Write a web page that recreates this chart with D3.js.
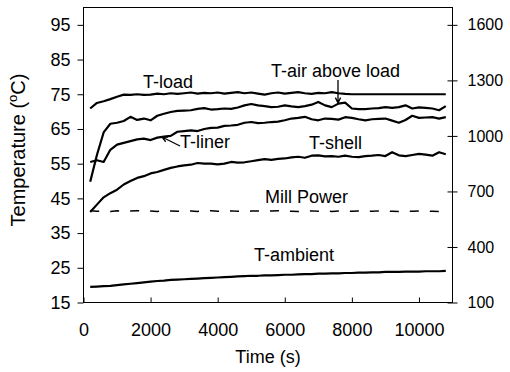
<!DOCTYPE html>
<html>
<head>
<meta charset="utf-8">
<script src="https://cdn.jsdelivr.net/npm/d3@7"></script>
<style>
  body { margin: 0; background: #fff; }
  svg { font-family: Arial, "Liberation Sans", sans-serif; }
</style>
</head>
<body>
<svg id="chart" width="510" height="372"></svg>
<script>
// time samples (s)
var times = [200, 400, 600, 800, 1000, 1200, 1400, 1600, 1800, 2000,
  2200, 2400, 2600, 2800, 3000, 3200, 3400, 3600, 3800, 4000,
  4200, 4400, 4600, 4800, 5000, 5200, 5400, 5600, 5800, 6000,
  6200, 6400, 6600, 6800, 7000, 7200, 7400, 7600, 7800, 8000,
  8200, 8400, 8600, 8800, 9000, 9200, 9400, 9600, 9800, 10000,
  10200, 10400, 10600, 10800];

// temperatures (C)
var tLoad = [70.9, 72.5, 73.0, 73.6, 74.3, 74.9, 74.8, 75.0, 74.8, 74.9,
  75.2, 75.0, 75.3, 75.1, 75.3, 75.5, 75.2, 75.4, 75.3, 75.5,
  75.2, 75.4, 75.6, 75.3, 75.5, 75.2, 74.9, 75.3, 75.5, 75.2,
  75.4, 75.6, 75.3, 75.1, 75.4, 75.3, 75.6, 75.3, 75.1, 75.0,
  75.0, 75.0, 75.0, 75.0, 75.0, 75.0, 75.0, 75.0, 75.0, 75.0,
  75.0, 75.0, 75.0, 75.0];

var tAir = [49.8, 57.5, 64.0, 66.5, 66.8, 67.3, 68.5, 67.6, 68.0, 67.5,
  68.8, 69.4, 69.9, 70.2, 70.3, 70.4, 70.8, 71.0, 70.6, 70.7,
  70.9, 70.8, 71.2, 71.8, 72.2, 71.8, 71.6, 71.3, 71.4, 71.8,
  71.5, 71.3, 71.6, 72.0, 72.8, 71.8, 71.3, 72.3, 72.6, 70.9,
  70.7, 70.7, 70.9, 71.0, 71.3, 71.1, 71.3, 71.8, 70.9, 71.2,
  71.1, 70.9, 70.4, 71.6];

var tLiner = [55.5, 56.0, 55.5, 59.0, 60.5, 61.0, 61.5, 62.0, 62.2, 61.8,
  62.5, 62.8, 63.0, 64.2, 64.4, 64.6, 64.4, 65.0, 65.3, 65.4,
  65.9, 66.0, 66.2, 66.8, 67.0, 66.7, 66.8, 67.0, 67.1, 67.5,
  68.0, 68.2, 68.5, 67.8, 67.5, 68.0, 67.9, 67.7, 68.4, 68.2,
  67.8, 67.5, 67.8, 67.9, 68.0, 67.4, 66.8, 67.6, 68.8, 68.2,
  68.3, 68.4, 68.0, 68.4];

var tShell = [41.1, 43.2, 45.3, 46.5, 47.5, 49.0, 50.0, 50.9, 51.4, 52.2,
  52.6, 53.2, 53.8, 54.2, 54.5, 54.7, 55.2, 55.0, 55.0, 54.8,
  55.0, 55.5, 55.3, 55.4, 55.7, 56.0, 56.3, 56.1, 56.4, 56.5,
  56.8, 57.0, 56.7, 57.3, 57.4, 57.1, 57.2, 57.0, 57.3, 57.0,
  56.9, 57.2, 57.3, 57.5, 57.2, 58.3, 57.4, 57.2, 57.5, 57.8,
  57.6, 57.3, 58.3, 57.7];

var tAmbient = [19.5, 19.6, 19.7, 19.8, 20.0, 20.2, 20.4, 20.6, 20.8, 21.0,
  21.2, 21.3, 21.5, 21.6, 21.7, 21.8, 21.9, 22.0, 22.1, 22.2,
  22.3, 22.4, 22.5, 22.6, 22.7, 22.7, 22.8, 22.8, 22.9, 23.0,
  23.0, 23.1, 23.2, 23.2, 23.3, 23.3, 23.4, 23.4, 23.5, 23.5,
  23.6, 23.6, 23.7, 23.7, 23.8, 23.8, 23.8, 23.9, 23.9, 23.9,
  24.0, 24.0, 24.0, 24.1];

// mill power (W), right axis
var millPower = [596, 593, 594, 592, 595, 593, 594, 596, 593, 594,
  592, 595, 594, 593, 595, 594, 592, 594, 596, 593,
  594, 595, 593, 592, 594, 595, 593, 594, 596, 594,
  593, 592, 594, 595, 593, 594, 592, 594, 595, 593,
  594, 592, 593, 595, 594, 593, 592, 594, 593, 595,
  594, 593, 592, 594];

var xTicks = [0, 2000, 4000, 6000, 8000, 10000];
var leftTicks = [15, 25, 35, 45, 55, 65, 75, 85, 95];
var rightTicks = [100, 400, 700, 1000, 1300, 1600];

var svg = d3.select("#chart");

var pLeft = 83.5, pRight = 452.5, pTop = 7.5, pBottom = 302.5;

var x = d3.scaleLinear().domain([0, 11000]).range([pLeft, pRight]);
var yL = d3.scaleLinear().domain([15, 100]).range([pBottom, pTop]);
var yR = d3.scaleLinear().domain([100, 1693.75]).range([pBottom, pTop]);

// frame
svg.append("rect")
  .attr("x", pLeft).attr("y", pTop)
  .attr("width", pRight - pLeft).attr("height", pBottom - pTop)
  .attr("fill", "none").attr("stroke", "#000").attr("stroke-width", 1);

// left axis
var gL = svg.append("g")
  .attr("transform", "translate(" + pLeft + ",0)")
  .call(d3.axisLeft(yL).tickValues(leftTicks).tickSize(6).tickPadding(7).tickSizeOuter(0));

// right axis, ticks cross the line
var gR = svg.append("g")
  .attr("transform", "translate(" + pRight + ",0)")
  .call(d3.axisRight(yR).tickValues(rightTicks).tickFormat(d3.format("d"))
    .tickSize(5).tickPadding(10).tickSizeOuter(0));
gR.selectAll(".tick line").attr("x1", -5).attr("x2", 5);

// bottom axis, ticks inside
var gB = svg.append("g")
  .attr("transform", "translate(0," + pBottom + ")")
  .call(d3.axisBottom(x).tickValues(xTicks).tickFormat(d3.format("d"))
    .tickSize(-5).tickPadding(21).tickSizeOuter(0));

[gL, gR, gB].forEach(function(g) {
  g.select(".domain").remove();
  g.selectAll(".tick line").attr("stroke", "#000");
  g.selectAll(".tick text")
    .attr("fill", "#000")
    .style("font-size", "18px")
    .style("font-family", "Arial, 'Liberation Sans', sans-serif");
});
gR.selectAll(".tick text").style("font-size", "16px");

// axis titles
var yTitle = svg.append("text")
  .attr("transform", "translate(25,150) rotate(-90)")
  .attr("text-anchor", "middle")
  .style("font-size", "20px");
yTitle.append("tspan").text("Temperature (");
yTitle.append("tspan").attr("dy", -8).style("font-size", "13px").text("o");
yTitle.append("tspan").attr("dy", 8).text("C)");

svg.append("text")
  .attr("x", (pLeft + pRight) / 2).attr("y", 363)
  .attr("text-anchor", "middle")
  .style("font-size", "18px")
  .text("Time (s)");

// series
var lineL = function(vals) {
  return d3.line()
    .x(function(d, i) { return x(times[i]); })
    .y(function(d) { return yL(d); })(vals);
};

[tLoad, tAir, tLiner, tShell, tAmbient].forEach(function(s) {
  svg.append("path")
    .attr("d", lineL(s))
    .attr("fill", "none")
    .attr("stroke", "#000")
    .attr("stroke-width", 2.2)
    .attr("stroke-linejoin", "round");
});

svg.append("path")
  .attr("d", d3.line()
    .x(function(d, i) { return x(times[i]); })
    .y(function(d) { return yR(d); })(millPower))
  .attr("fill", "none")
  .attr("stroke", "#000")
  .attr("stroke-width", 1.5)
  .attr("stroke-dasharray", "9,11");

// series labels
var labels = [
  { text: "T-load", x: 143, y: 88 },
  { text: "T-air above load", x: 271, y: 77 },
  { text: "T-liner", x: 180, y: 148 },
  { text: "T-shell", x: 309, y: 149 },
  { text: "Mill Power", x: 265, y: 203 },
  { text: "T-ambient", x: 254, y: 261 }
];
svg.selectAll(".lbl")
  .data(labels)
  .enter()
  .append("text")
  .attr("class", "lbl")
  .attr("x", function(d) { return d.x; })
  .attr("y", function(d) { return d.y; })
  .style("font-size", "18px")
  .text(function(d) { return d.text; });

// arrows
function arrow(x1, y1, x2, y2) {
  var a = Math.atan2(y2 - y1, x2 - x1), h = 6, w = 0.45;
  svg.append("path")
    .attr("d", "M" + x1 + "," + y1 + "L" + x2 + "," + y2 +
      "M" + (x2 - h * Math.cos(a - w)) + "," + (y2 - h * Math.sin(a - w)) +
      "L" + x2 + "," + y2 +
      "L" + (x2 - h * Math.cos(a + w)) + "," + (y2 - h * Math.sin(a + w)))
    .attr("fill", "none")
    .attr("stroke", "#000")
    .attr("stroke-width", 1.3);
}
arrow(338, 80, 338, 103);
arrow(180, 146, 162, 137);
</script>
</body>
</html>
